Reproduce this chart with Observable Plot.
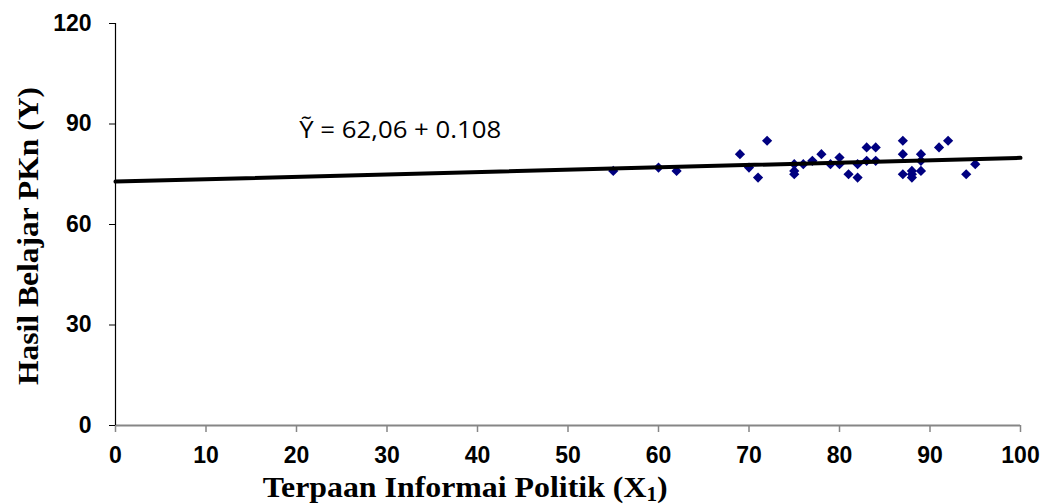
<!DOCTYPE html>
<html><head><meta charset="utf-8">
<script src="https://cdn.jsdelivr.net/npm/d3@7"></script>
<script src="https://cdn.jsdelivr.net/npm/@observablehq/plot@0.6"></script>
<style>
body{margin:0;background:#fff}
</style>
</head><body><div id="chart"></div>
<script>
// Scatter data (X1 = Terpaan Informasi Politik, Y = Hasil Belajar PKn)
const xValues = [55,60,62,69,70,71,72,75,75,75,76,77,78,79,80,80,81,82,82,83,83,84,84,87,87,87,88,88,88,89,89,89,91,92,94,95];
const yValues = [76,77,76,81,77,74,85,78,76,75,78,79,81,78,80,78,75,78,74,83,79,83,79,85,81,75,76,75,74,81,79,76,83,85,75,78];
const xTicks = [0,10,20,30,40,50,60,70,80,90,100];
const yTicks = [0,30,60,90,120];
// regression line as drawn
const trendX = [0,100];
const trendY = [72.8,79.9];
const equation = "Ỹ = 62,06 + 0.108";
const equationX = [20.3];
const equationY = [85.8];
const xTitleParts = ["Terpaan Informai Politik (X","1",")"];
const yTitle = "Hasil Belajar PKn (Y)";

const points = xValues.map((x,i)=>({x, y:yValues[i]}));
const trend = trendX.map((x,i)=>({x, y:trendY[i]}));
const eqData = equationX.map((x,i)=>({x, y:equationY[i], t:equation}));

const chart = Plot.plot({
  width:1051, height:504,
  marginLeft:115, marginRight:31, marginTop:23, marginBottom:79,
  x:{domain:[0,100]},
  y:{domain:[0,120]},
  style:{fontFamily:"'Liberation Sans', Arial, sans-serif", fontSize:"23px", fontWeight:"bold", background:"#fff", color:"#000", overflow:"visible"},
  marks:[
    Plot.axisX({ticks:xTicks, tickSize:7, tickPadding:14, stroke:"#868686", strokeWidth:1.5, fontSize:23, label:null}),
    Plot.axisY({ticks:yTicks, tickSize:6, tickPadding:18, stroke:"#000", fontSize:23, label:null}),
    Plot.ruleY([0], {stroke:"#868686", strokeWidth:2}),
    Plot.ruleX([0], {stroke:"#000", strokeWidth:1.2}),
    Plot.dot(points, {x:"x", y:"y", symbol:"diamond2", r:4.6, fill:"#000080", stroke:null}),
    Plot.line(trend, {x:"x", y:"y", stroke:"#000", strokeWidth:4}),
    Plot.text(eqData, {x:"x", y:"y", text:"t", textAnchor:"start", lineAnchor:"bottom", fontSize:23, fontWeight:"normal", fontFamily:"'Open Sans', sans-serif", fill:"#000"})
  ]
});
document.getElementById("chart").appendChild(chart);

const svg = d3.select(chart);
// force tick label styling
svg.selectAll("text").filter(function(){return /^\d+$/.test(this.textContent.trim());})
  .style("font-size","23px").style("font-weight","bold")
  .style("font-family","'Liberation Sans', Arial, sans-serif");
svg.selectAll("text").filter(function(){return this.textContent===equation;})
  .style("font-weight","normal").style("font-size","23px")
  .attr("textLength",202).attr("lengthAdjust","spacingAndGlyphs");

// axis titles
const xt = svg.append("text")
  .attr("x",262.7).attr("y",497)
  .attr("text-anchor","start")
  .attr("font-family","'Liberation Serif', 'Times New Roman', serif")
  .attr("font-weight","bold").attr("font-size",30).attr("fill","#000")
  .attr("textLength",405).attr("lengthAdjust","spacingAndGlyphs");
xt.append("tspan").text(xTitleParts[0]);
xt.append("tspan").attr("font-size",20).attr("dy",4).text(xTitleParts[1]);
xt.append("tspan").attr("dy",-4).text(xTitleParts[2]);

svg.append("text")
  .attr("transform","translate(38.3,236) rotate(-90)")
  .attr("text-anchor","middle")
  .attr("font-family","'Liberation Serif', 'Times New Roman', serif")
  .attr("font-weight","bold").attr("font-size",30).attr("fill","#000")
  .attr("textLength",298).attr("lengthAdjust","spacingAndGlyphs")
  .text(yTitle);
</script>
</body></html>
